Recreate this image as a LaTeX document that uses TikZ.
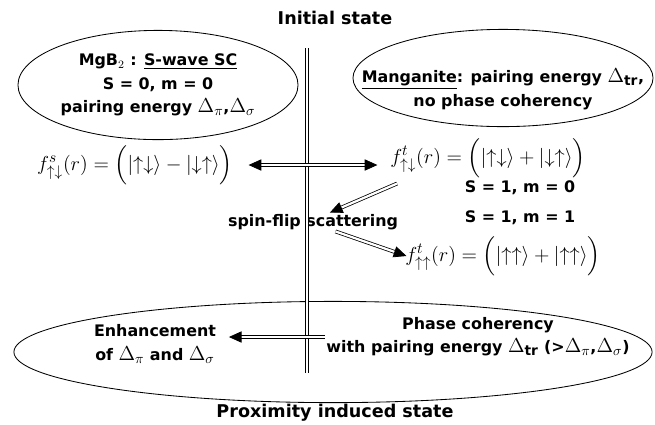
\documentclass[tikz,border=0pt]{standalone}
\usepackage{amsmath,amssymb}
\usepackage{fontspec}
\setmainfont{DejaVu Sans}
\usepackage{tikz}
\usetikzlibrary{arrows.meta,positioning,shapes.geometric}
\tikzset{
  lbl/.style={font=\fontsize{11.3}{16.5}\selectfont\bfseries, align=center, inner sep=1pt},
  head/.style={font=\fontsize{12.5}{14}\selectfont\bfseries, inner sep=1pt},
  bubble/.style={ellipse, draw, line width=0.6pt, inner sep=0pt},
  formula/.style={font=\fontsize{15.5}{18}\selectfont, inner sep=1pt},
  dblarr/.style={double, double distance=1.6pt, line width=0.55pt,
                 -{Triangle[length=9pt,width=8pt]}},
  divider/.style={double, double distance=1.8pt, line width=0.55pt},
}
\newcommand{\ketud}[2]{|\mathord{#1}\mathord{#2}\rangle}
\newcommand{\bigD}[1]{{\fontsize{14}{14}\selectfont$\Delta_{#1}$}}

\begin{document}
\begin{tikzpicture}[x=0.025cm, y=-0.025cm]
  \useasboundingbox (0,0) rectangle (655,424);

  % states
  \node[head] (initial) at (335,18) {Initial state};
  \node[head] (prox) at (335,413) {Proximity induced state};

  % top bubbles
  \node[bubble, minimum width=7cm, minimum height=2.73cm] (mgb) at (158,85) {};
  \node[lbl] (mgbtxt) at (mgb) {MgB$_2$ : \underline{S-wave SC}\\S = 0, m = 0\\
        pairing energy \bigD{\pi},\bigD{\sigma}};
  \node[bubble, minimum width=7.5cm, minimum height=2.43cm] (mang) at (503,78) {};
  \node[lbl] (mangtxt) at ([yshift=-8pt]mang) {\underline{Manganite}: pairing energy \bigD{\text{tr}},\\
        no phase coherency};

  % pair amplitudes
  \node[formula] (fs) at (135,165)
        {$f^{s}_{\uparrow\downarrow}(r)=\Big(\ketud{\uparrow}{\downarrow}-\ketud{\downarrow}{\uparrow}\Big)$};
  \node[formula] (ft) at (488,158)
        {$f^{t}_{\uparrow\downarrow}(r)=\Big(\ketud{\uparrow}{\downarrow}+\ketud{\downarrow}{\uparrow}\Big)$};
  \node[lbl] (s10) at (520,188) {S = 1, m = 0};
  \node[lbl] (s11) at (520,218) {S = 1, m = 1};
  \node[lbl] (spin) at (313,222) {spin-flip scattering};
  \node[formula] (ftt) at (503,256)
        {$f^{t}_{\uparrow\uparrow}(r)=\Big(\ketud{\uparrow}{\uparrow}+\ketud{\uparrow}{\uparrow}\Big)$};

  % proximity bubble
  \node[bubble, minimum width=15.95cm, minimum height=2.53cm] (prxb) at (333,352) {};
  \node[lbl] (enh) at (155,344) {Enhancement\\of \bigD{\pi} and \bigD{\sigma}};
  \node[lbl] (phase) at (478,337) {Phase coherency\\
        with pairing energy \bigD{\text{tr}} (>\bigD{\pi},\bigD{\sigma})};

  % interface
  \coordinate (divtop) at (307,48);
  \coordinate (divbot) at (307,373);
  \draw[divider] (divtop) -- (divbot);

  \draw[dblarr, {Triangle[length=9pt,width=8pt]}-{Triangle[length=9pt,width=8pt]}]
        ([xshift=10pt]fs.east) -- ([xshift=-8pt]fs.east -| ft.west);
  \draw[dblarr] (ft.south west) ++(6pt,-3pt) coordinate (ftsw) -- ([xshift=12pt]spin.north);
  \draw[dblarr] ([xshift=16pt]spin.south) -- ([xshift=2pt]ftt.west);
  \draw[dblarr] (phase.west) -- ([xshift=8pt]phase.west -| enh.east);
\end{tikzpicture}
\end{document}
